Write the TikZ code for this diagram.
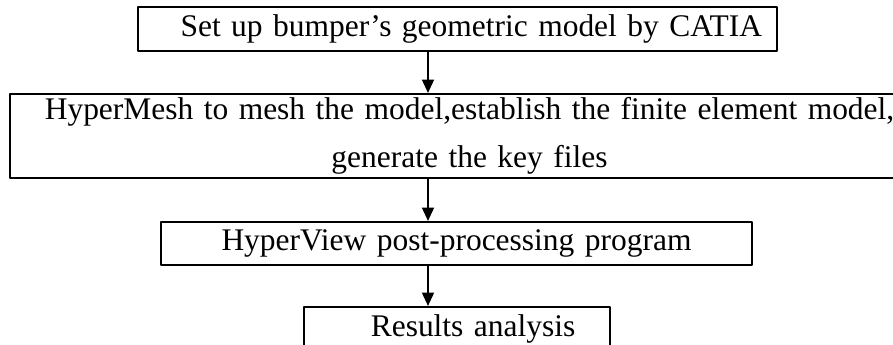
\documentclass[tikz,border=0pt]{standalone}
\usepackage{fontspec}
\setmainfont{Liberation Serif}
\usetikzlibrary{arrows.meta}
\begin{document}
\begin{tikzpicture}[x=0.75pt,y=-0.75pt,line join=round,
  >={Triangle[length=10pt,width=9pt]},
  stepbox/.style={draw,line width=1.6pt,inner xsep=9pt,inner ysep=0pt,
    font=\fontsize{23.6}{36}\selectfont},
  flow/.style={->,line width=1.3pt}]
\def\ax{428}
\clip (0,0) rectangle (893,344);
\node[stepbox,align=right,inner xsep=11.25pt,text width=456.75pt,minimum height=33pt] (cad) at (457.5,29)
  {Set up bumper’s geometric model by CATIA};
\node[stepbox,align=center,text width=671.25pt,minimum height=63pt] (mesh) at (469.5,136)
  {HyperMesh to mesh the model,establish the finite element model,\\ generate the key files};
\node[stepbox,align=center,text width=425.25pt,minimum height=32.25pt] (post) at (456.5,243.5)
  {HyperView post-processing program};
\node[stepbox,align=right,inner xsep=26pt,text width=177.5pt,minimum height=33pt] (res) at (457,329)
  {Results analysis};
\coordinate (ax) at (\ax,0);
\draw[flow] (ax |- cad.south) -- (ax |- mesh.north);
\draw[flow] (ax |- mesh.south) -- (ax |- post.north);
\draw[flow] (ax |- post.south) -- (ax |- res.north);
\end{tikzpicture}
\end{document}
